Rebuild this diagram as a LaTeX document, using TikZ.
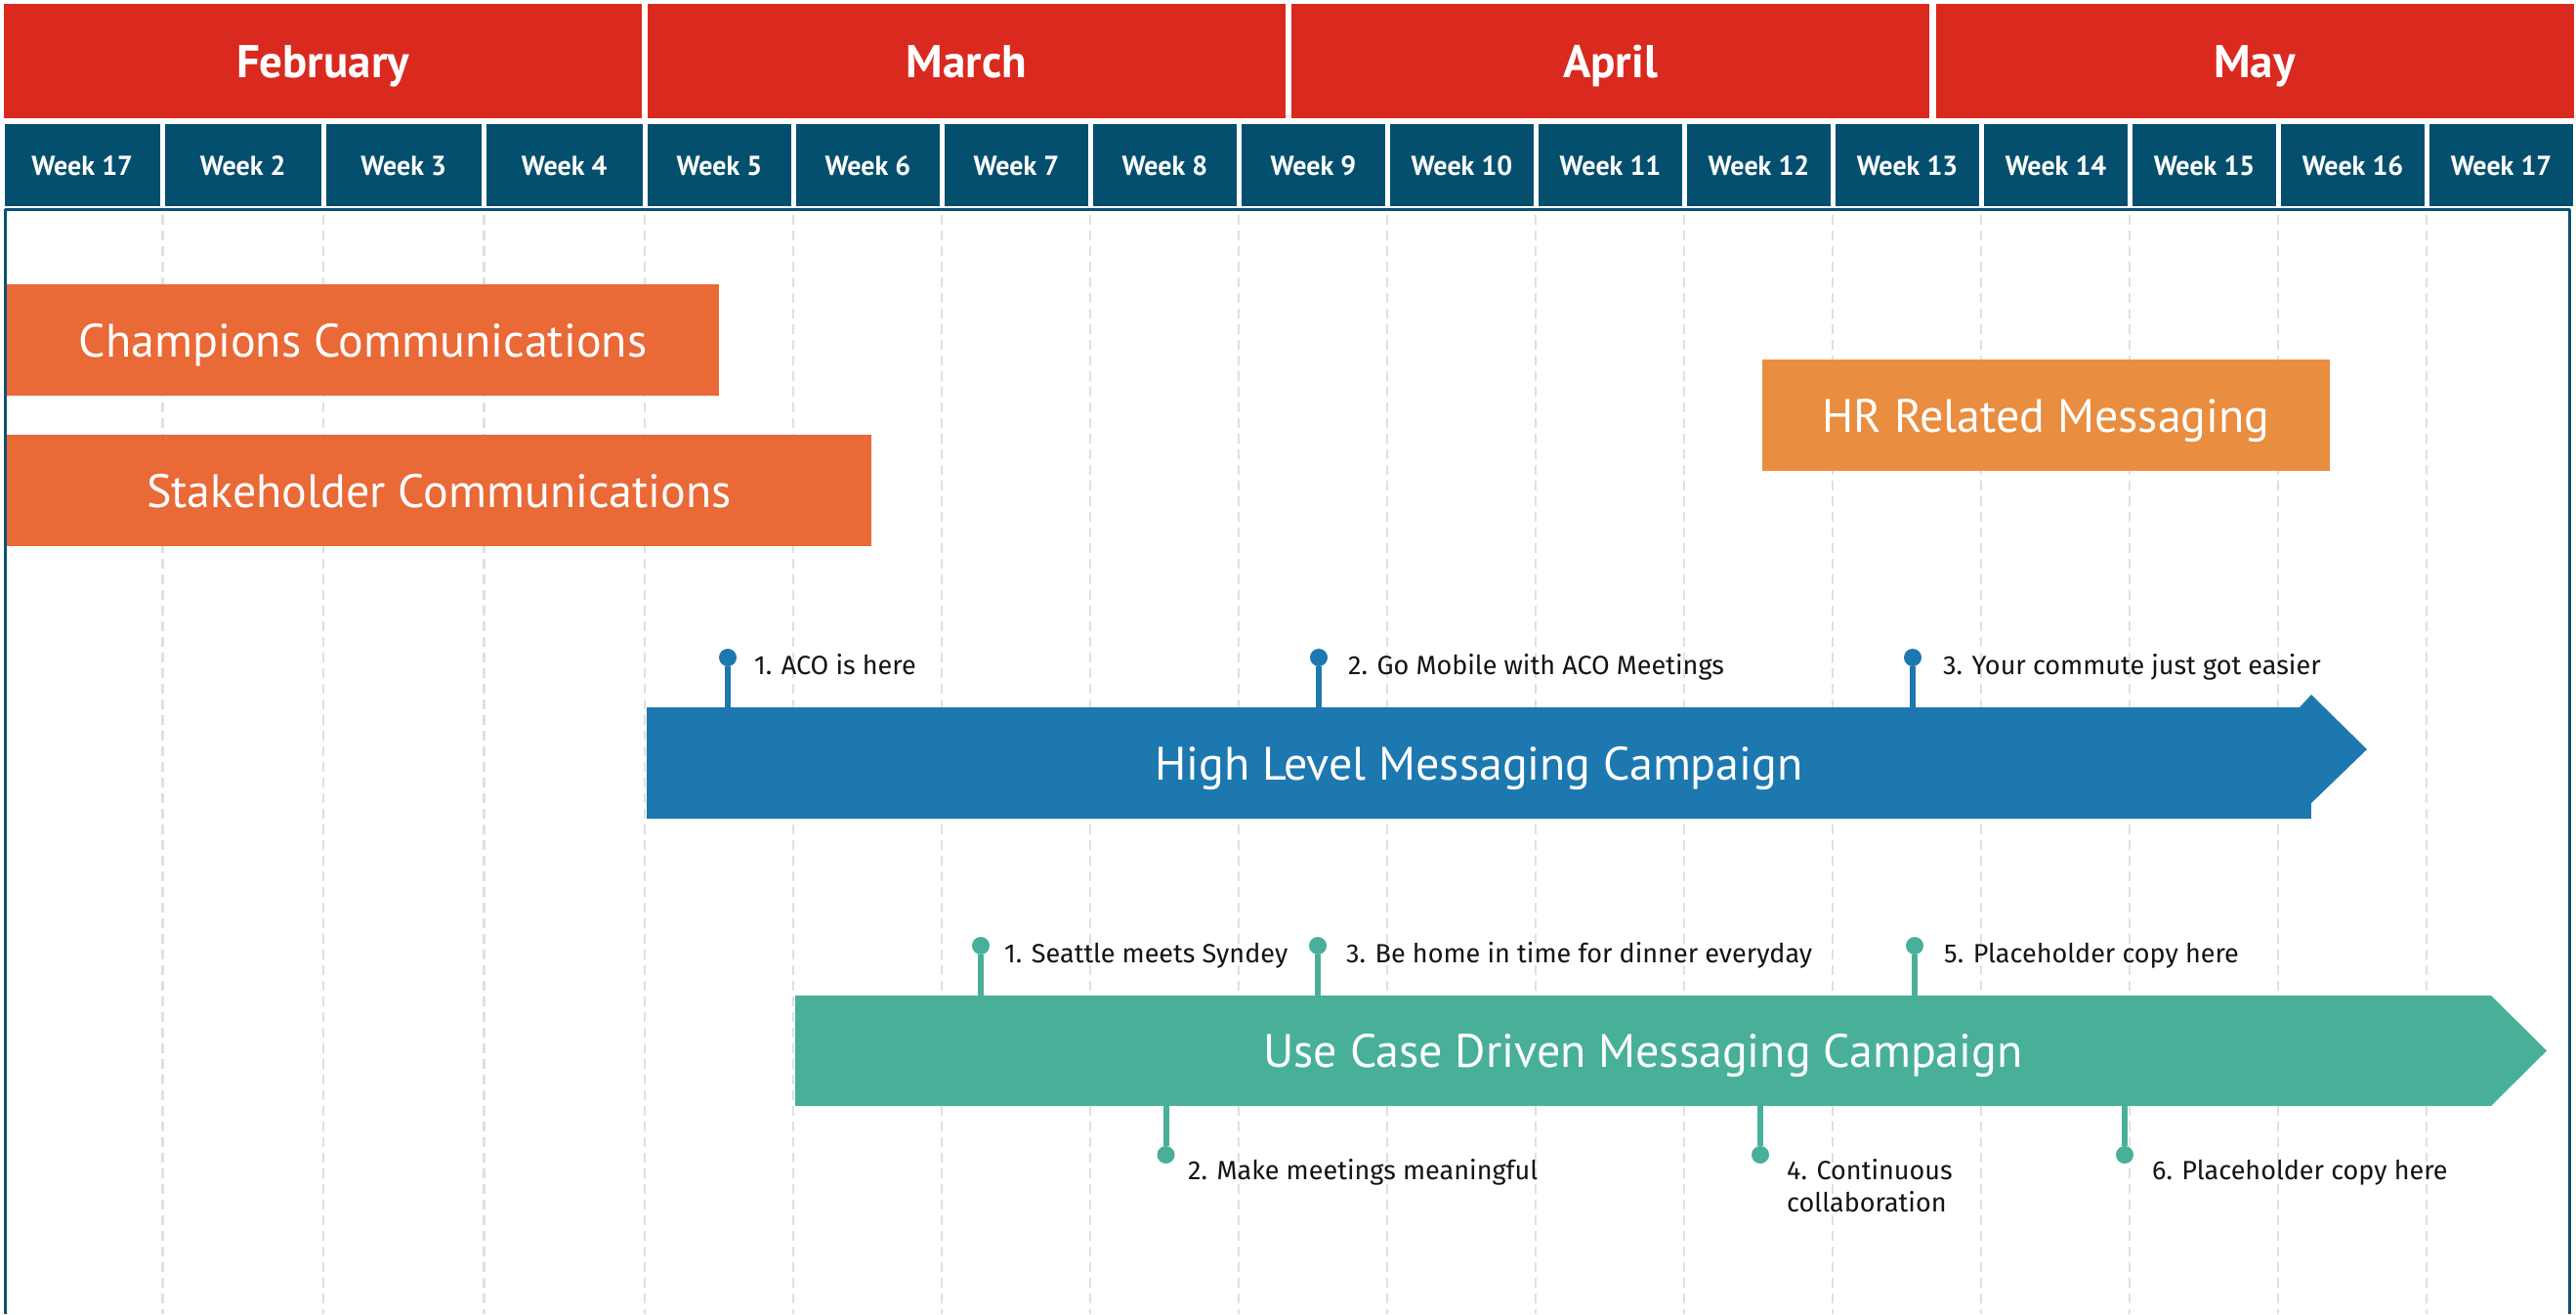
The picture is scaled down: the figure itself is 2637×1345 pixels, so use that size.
\documentclass[tikz,border=0pt]{standalone}
\usepackage{fontspec}
\setmainfont{PT Sans}
\newfontfamily\notefont{Fira Sans}
\usetikzlibrary{positioning}

\definecolor{monthcol}{rgb}{0.855,0.161,0.118}
\definecolor{weekcol}{rgb}{0.016,0.310,0.427}
\definecolor{framecol}{rgb}{0.040,0.330,0.450}
\definecolor{gridcol}{rgb}{0.880,0.880,0.880}
\definecolor{commcol}{rgb}{0.914,0.412,0.216}
\definecolor{hrcol}{rgb}{0.914,0.553,0.251}
\definecolor{hlcol}{rgb}{0.114,0.471,0.690}
\definecolor{uccol}{rgb}{0.282,0.690,0.596}
\definecolor{notecol}{rgb}{0.08,0.08,0.08}

\tikzset{
  monthbox/.style={fill=monthcol, text=white, inner sep=0pt, outer sep=0pt,
    minimum width=653pt, minimum height=117pt, text height=33pt, text depth=0pt,
    font=\fontsize{47}{52}\selectfont\bfseries},
  weekbox/.style={fill=weekcol, text=white, inner sep=0pt, outer sep=0pt,
    minimum height=84pt, text height=20pt, text depth=0pt,
    font=\fontsize{28}{32}\selectfont\bfseries},
  wideweek/.style={weekbox, minimum width=159.5pt},
  narrowweek/.style={weekbox, minimum width=147pt},
  taskbar/.style={text=white, inner sep=0pt, outer sep=0pt, minimum height=114pt,
    text height=34pt, text depth=0pt, font=\fontsize{48}{52}\selectfont},
  gridline/.style={gridcol, line width=2.5pt, dash pattern=on 10pt off 6pt},
  bluedot/.style={circle, fill=hlcol, inner sep=0pt, minimum size=18pt},
  tealdot/.style={circle, fill=uccol, inner sep=0pt, minimum size=18pt},
  bluestem/.style={hlcol, line width=6pt},
  tealstem/.style={uccol, line width=6pt},
  note/.style={text=notecol, inner sep=0pt, anchor=base west,
    font=\notefont\fontsize{27}{33}\selectfont},
}

\begin{document}
\begin{tikzpicture}[x=1pt,y=-1pt,line join=bevel]
  \useasboundingbox (0,0) rectangle (2637,1345);
  \fill[white] (0,0) rectangle (2637,1345);
%%
  % Months
  \node[monthbox] (feb) at (330.5,62.5) {February};
  \node[monthbox] (mar) at (989.5,62.5) {March};
  \node[monthbox] (apr) at (1648.5,62.5) {April};
  \node[monthbox] (may) at (2308,62.5) {May};
  % Weeks
  \node[wideweek] (wk17a) at (84.25,169) {Week 17};
  \node[wideweek] (wk2) at (248.75,169) {Week 2};
  \node[wideweek] (wk3) at (413.25,169) {Week 3};
  \node[wideweek] (wk4) at (577.75,169) {Week 4};
  \node[narrowweek] (wk5) at (736.5,169) {Week 5};
  \node[narrowweek] (wk6) at (888.5,169) {Week 6};
  \node[narrowweek] (wk7) at (1040.5,169) {Week 7};
  \node[narrowweek] (wk8) at (1192.5,169) {Week 8};
  \node[narrowweek] (wk9) at (1344.5,169) {Week 9};
  \node[narrowweek] (wk10) at (1496.5,169) {Week 10};
  \node[narrowweek] (wk11) at (1648.5,169) {Week 11};
  \node[narrowweek] (wk12) at (1800.5,169) {Week 12};
  \node[narrowweek] (wk13) at (1952.5,169) {Week 13};
  \node[narrowweek] (wk14) at (2104.5,169) {Week 14};
  \node[narrowweek] (wk15) at (2256.5,169) {Week 15};
  \node[narrowweek] (wk16) at (2408.5,169) {Week 16};
  \node[narrowweek] (wk17b) at (2560.5,169) {Week 17};
  % Week grid
  \draw[gridline] (166.5,220) -- (166.5,1345) (331,220) -- (331,1345)
    (495.5,220) -- (495.5,1345) (660,220) -- (660,1345)
    (812,220) -- (812,1345) (964,220) -- (964,1345)
    (1116,220) -- (1116,1345) (1268,220) -- (1268,1345)
    (1420,220) -- (1420,1345) (1572,220) -- (1572,1345)
    (1724,220) -- (1724,1345) (1876,220) -- (1876,1345)
    (2028,220) -- (2028,1345) (2180,220) -- (2180,1345)
    (2332,220) -- (2332,1345) (2484,220) -- (2484,1345);
  % Frame
  \draw[framecol, line width=3pt] (5,1345) -- (5,214.5) -- (2630,214.5) -- (2630,1345);
%%
  % Node: champions
  \node[taskbar, fill=commcol, minimum width=729pt] (champ) at (371.5,348) {Champions Communications};
  % Node: stakeholder
  \node[taskbar, fill=commcol, minimum width=885pt] (stake) at (449.5,502) {Stakeholder Communications};
  % Node: hr
  \node[taskbar, fill=hrcol, minimum width=581pt] (hr) at (2094.5,425) {HR Related Messaging};
%%
  % Node: hlcampaign
  \node[taskbar, fill=hlcol, minimum width=1704pt] (hl) at (1514,781) {High Level Messaging Campaign};
  \fill[hlcol] (2354,724) -- (2366,711) -- (2423,767) -- (2366,822) -- cycle;
  % Node: uccampaign
  \node[taskbar, fill=uccol, minimum width=1736pt, minimum height=113pt] (uc) at (1682,1075.5) {Use Case Driven Messaging Campaign};
  \fill[uccol] (uc.north east) -- (2607,1075.5) -- (uc.south east) -- cycle;
%%
  % Edge: hdot1 -> hlcampaign
  \node[bluedot] (hdot1) at (745,673) {};
  \draw[bluestem] (hdot1) -- (hdot1 |- hl.north);
  \node[note] (hnote1) at (772,690) {1. ACO is here};
  % Edge: hdot2 -> hlcampaign
  \node[bluedot] (hdot2) at (1350,673) {};
  \draw[bluestem] (hdot2) -- (hdot2 |- hl.north);
  \node[note] (hnote2) at (1380,690) {2. Go Mobile with ACO Meetings};
  % Edge: hdot3 -> hlcampaign
  \node[bluedot] (hdot3) at (1958,673) {};
  \draw[bluestem] (hdot3) -- (hdot3 |- hl.north);
  \node[note] (hnote3) at (1989,690) {3. Your commute just got easier};
%%
  % Edge: udot1 -> uccampaign
  \node[tealdot] (udot1) at (1004,968) {};
  \draw[tealstem] (udot1) -- (udot1 |- uc.north);
  \node[note] (unote1) at (1028,985) {1. Seattle meets Syndey};
  % Edge: udot2 -> uccampaign
  \node[tealdot] (udot2) at (1193.5,1182) {};
  \draw[tealstem] (udot2) -- (udot2 |- uc.south);
  \node[note] (unote2) at (1216,1207) {2. Make meetings meaningful};
  % Edge: udot3 -> uccampaign
  \node[tealdot] (udot3) at (1349,968) {};
  \draw[tealstem] (udot3) -- (udot3 |- uc.north);
  \node[note] (unote3) at (1378,985) {3. Be home in time for dinner everyday};
  % Edge: udot4 -> uccampaign (base sits on the last line)
  \node[tealdot] (udot4) at (1802,1182) {};
  \draw[tealstem] (udot4) -- (udot4 |- uc.south);
  \node[note, align=left] (unote4) at (1829,1240) {4. Continuous\\collaboration};
  % Edge: udot5 -> uccampaign
  \node[tealdot] (udot5) at (1960,968) {};
  \draw[tealstem] (udot5) -- (udot5 |- uc.north);
  \node[note] (unote5) at (1990,985) {5. Placeholder copy here};
  % Edge: udot6 -> uccampaign
  \node[tealdot] (udot6) at (2175,1182) {};
  \draw[tealstem] (udot6) -- (udot6 |- uc.south);
  \node[note] (unote6) at (2203,1207) {6. Placeholder copy here};
%
\end{tikzpicture}
\end{document}
